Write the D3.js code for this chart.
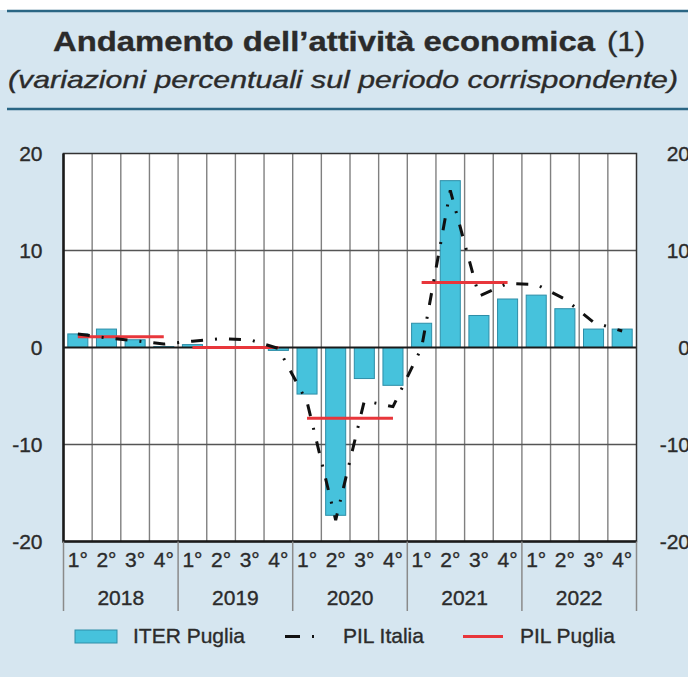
<!DOCTYPE html>
<html lang="it">
<head>
<meta charset="UTF-8">
<title>Andamento dell'attività economica</title>
<script src="https://d3js.org/d3.v7.min.js"></script>
<style>
body { margin: 0; background: #fff; }
#chart { display: block; }
#chart text { font-family: 'Liberation Sans', Arial, sans-serif; fill: #2b2b2b; stroke: #2b2b2b; stroke-width: 0.35px; }
</style>
</head>
<body>
<svg id="chart" width="688" height="677"></svg>
<script>
// data
const years = ["2018", "2019", "2020", "2021", "2022"];
const quarters = ["1°", "2°", "3°", "4°"];
const iterPuglia = [1.4, 1.9, 0.8, 0.1, 0.3, 0.1, 0.1, -0.3, -4.8, -17.3, -3.2, -3.9, 2.5, 17.2, 3.3, 5.0, 5.4, 4.0, 1.9, 1.9];
const pilItalia = [1.4, 1.0, 0.7, 0.35, 0.65, 0.9, 0.8, -0.1, -5.6, -17.8, -5.5, -6.1, 0.0, 16.2, 5.3, 6.6, 6.5, 5.0, 2.6, 1.7];
const pilPuglia = [1.1, 0.0, -7.3, 6.7, null];
const yTicks = [-20, -10, 0, 10, 20];
const legendLabels = ["ITER Puglia", "PIL Italia", "PIL Puglia"];

const periods = years.flatMap(yr => quarters.map(q => yr + "-" + q));

const svg = d3.select("#chart");
const pLeft = 63.5, pRight = 636.5, pTop = 153.5, pBottom = 541.5;

const x = d3.scaleBand().domain(periods).range([pLeft, pRight]).paddingInner(0.3).paddingOuter(0.15);
const xi = d3.scaleLinear().domain([0, periods.length]).range([pLeft, pRight]);
const y = d3.scaleLinear().domain([-20, 20]).range([pBottom, pTop]);
const cx = p => x(p) + x.bandwidth() / 2;

// background and header
svg.append("rect").attr("width", 688).attr("height", 677).attr("fill", "#d6e6f0");
svg.append("rect").attr("width", 688).attr("height", 10).attr("fill", "#fff");
[11, 109].forEach(ly => {
    svg.append("line").attr("x1", 7).attr("x2", 688).attr("y1", ly).attr("y2", ly)
        .attr("stroke", "#2a6684").attr("stroke-width", 2.5);
});

svg.append("text").attr("x", 53).attr("y", 50.5)
    .attr("font-size", 28).attr("font-weight", "bold")
    .attr("textLength", 542).attr("lengthAdjust", "spacingAndGlyphs")
    .text("Andamento dell’attività economica");
svg.append("text").attr("x", 607).attr("y", 50.5)
    .attr("font-size", 28)
    .attr("textLength", 38).attr("lengthAdjust", "spacingAndGlyphs")
    .text("(1)");
svg.append("text").attr("x", 8).attr("y", 88)
    .attr("font-size", 24).attr("font-style", "italic")
    .attr("textLength", 670).attr("lengthAdjust", "spacingAndGlyphs")
    .text("(variazioni percentuali sul periodo corrispondente)");

// plot area
svg.append("rect").attr("x", pLeft).attr("y", pTop)
    .attr("width", pRight - pLeft).attr("height", pBottom - pTop).attr("fill", "#fff");

svg.append("g").selectAll("line").data(d3.range(1, periods.length)).join("line")
    .attr("x1", d => xi(d)).attr("x2", d => xi(d))
    .attr("y1", pTop).attr("y2", pBottom)
    .attr("stroke", "#808080").attr("stroke-width", 1.4);

svg.append("g").selectAll("line").data([-10, 10]).join("line")
    .attr("x1", pLeft).attr("x2", pRight)
    .attr("y1", d => y(d)).attr("y2", d => y(d))
    .attr("stroke", "#555").attr("stroke-width", 1.4);

// bars
svg.append("g").selectAll("rect").data(iterPuglia).join("rect")
    .attr("x", (d, i) => x(periods[i]))
    .attr("width", x.bandwidth())
    .attr("y", d => y(Math.max(0, d)))
    .attr("height", d => Math.abs(y(d) - y(0)))
    .attr("fill", "#46c2dc").attr("stroke", "#2e8ea8").attr("stroke-width", 1);

// zero line
svg.append("line").attr("x1", pLeft).attr("x2", pRight)
    .attr("y1", y(0)).attr("y2", y(0))
    .attr("stroke", "#1a1a1a").attr("stroke-width", 2.2);

// PIL Puglia, annual segments
svg.append("g").selectAll("line").data(pilPuglia.map((v, i) => ({ v, i })).filter(d => d.v !== null)).join("line")
    .attr("x1", d => cx(periods[d.i * 4]))
    .attr("x2", d => cx(periods[d.i * 4 + 3]))
    .attr("y1", d => y(d.v)).attr("y2", d => y(d.v))
    .attr("stroke", "#e8363b").attr("stroke-width", 3);

// PIL Italia
const line = d3.line().x((d, i) => cx(periods[i])).y(d => y(d));
svg.append("path").datum(pilItalia)
    .attr("d", line)
    .attr("fill", "none").attr("stroke", "#111").attr("stroke-width", 3)
    .attr("stroke-dasharray", "12,12,2,12");

// frame
svg.append("rect").attr("x", pLeft).attr("y", pTop)
    .attr("width", pRight - pLeft).attr("height", pBottom - pTop)
    .attr("fill", "none").attr("stroke", "#333").attr("stroke-width", 1.5);
svg.append("path").attr("d", `M${pLeft},${pTop}V${pBottom}H${pRight}`)
    .attr("fill", "none").attr("stroke", "#1a1a1a").attr("stroke-width", 2.5);

// y labels both sides (right ones run off the edge as in the original)
const yAxisL = svg.append("g").attr("transform", `translate(${pLeft},0)`)
    .call(d3.axisLeft(y).tickValues(yTicks).tickSize(0).tickPadding(21).tickFormat(d => String(d)));
const yAxisR = svg.append("g").attr("transform", "translate(690,0)")
    .call(d3.axisLeft(y).tickValues(yTicks).tickSize(0).tickPadding(0).tickFormat(d => String(d)));
[yAxisL, yAxisR].forEach(g => {
    g.select(".domain").remove();
    g.selectAll("text").attr("font-size", 21).attr("font-family", null).style("fill", "#2b2b2b");
});

// x labels
const xAxis = svg.append("g").attr("transform", `translate(0,${pBottom})`)
    .call(d3.axisBottom(x).tickSize(0).tickPadding(11).tickFormat(d => d.split("-")[1]));
xAxis.select(".domain").remove();
xAxis.selectAll("text").attr("font-size", 21).attr("font-family", null).style("fill", "#2b2b2b");

svg.append("g").selectAll("line").data(d3.range(0, years.length + 1)).join("line")
    .attr("x1", d => xi(d * 4)).attr("x2", d => xi(d * 4))
    .attr("y1", pBottom).attr("y2", 611)
    .attr("stroke", "#8a8a8a").attr("stroke-width", 1.5);

svg.append("g").selectAll("text").data(years).join("text")
    .attr("x", (d, i) => xi(i * 4 + 2)).attr("y", 605)
    .attr("text-anchor", "middle").attr("font-size", 21)
    .text(d => d);

// legend
const lg = svg.append("g");
lg.append("rect").attr("x", 75).attr("y", 630).attr("width", 42).attr("height", 13)
    .attr("fill", "#46c2dc").attr("stroke", "#2e8ea8").attr("stroke-width", 1);
lg.append("line").attr("x1", 285).attr("x2", 315).attr("y1", 636.5).attr("y2", 636.5)
    .attr("stroke", "#111").attr("stroke-width", 3).attr("stroke-dasharray", "15,12,2,12");
lg.append("line").attr("x1", 463).attr("x2", 503).attr("y1", 636.5).attr("y2", 636.5)
    .attr("stroke", "#e8363b").attr("stroke-width", 3);
lg.selectAll("text").data(legendLabels).join("text")
    .attr("x", (d, i) => [133, 343, 520][i]).attr("y", 643)
    .attr("font-size", 21)
    .text(d => d);
</script>
</body>
</html>
